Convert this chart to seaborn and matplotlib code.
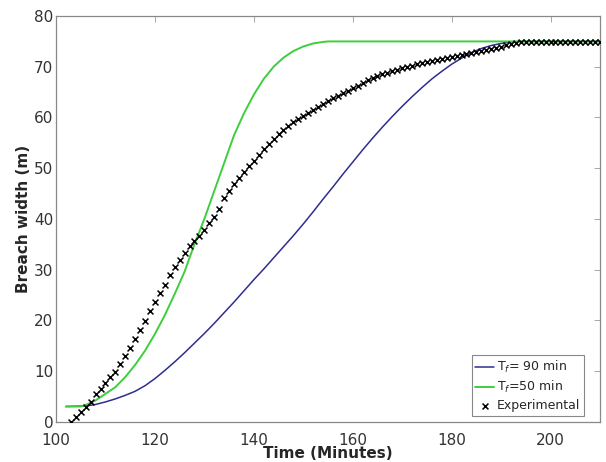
import numpy as np
import pandas as pd
import seaborn as sns
import matplotlib
matplotlib.use('Agg')
import matplotlib.pyplot as plt

# --- data ---
# model curve, T_f = 90 min
t_90 = [102, 106, 108, 110, 112, 114, 116, 118, 120, 122, 124, 126, 128, 130,
        132, 134, 136, 138, 140, 142, 144, 146, 148, 150, 152, 154, 156, 158,
        160, 162, 164, 166, 168, 170, 172, 174, 176, 178, 180, 182, 184, 186,
        188, 190, 192, 194, 210]
w_90 = [3.0, 3.1, 3.4, 3.9, 4.5, 5.2, 6.0, 7.1, 8.5, 10.1, 11.8, 13.6, 15.5, 17.4,
        19.4, 21.5, 23.6, 25.8, 28.0, 30.1, 32.3, 34.5, 36.7, 39.0, 41.4, 43.9, 46.3, 48.8,
        51.2, 53.6, 55.9, 58.1, 60.2, 62.2, 64.1, 65.9, 67.6, 69.1, 70.5, 71.7, 72.8, 73.6,
        74.2, 74.6, 74.9, 75.0, 75.0]

# model curve, T_f = 50 min
t_50 = [102, 105, 106, 108, 110, 112, 114, 116, 118, 120, 122, 124, 126, 128,
        130, 132, 134, 136, 138, 140, 142, 144, 146, 148, 150, 152, 154, 155, 210]
w_50 = [3.0, 3.0, 3.3, 4.2, 5.5, 6.8, 8.8, 11.2, 14.0, 17.3, 21.0, 25.2, 29.6, 35.0,
        40.0, 45.5, 51.0, 56.5, 60.8, 64.5, 67.6, 70.0, 71.8, 73.1, 74.0, 74.6, 74.9, 75.0, 75.0]

# experimental, one reading per minute from 103 to 210
t_exp = list(range(103, 211))
w_exp = [0.0, 1.0, 2.0, 2.9, 3.8, 5.5, 6.4, 7.6, 8.9, 9.8,
         11.3, 12.9, 14.5, 16.3, 18.0, 19.8, 21.9, 23.6, 25.3, 27.0,
         29.0, 30.6, 31.9, 33.2, 34.6, 35.7, 36.6, 37.8, 39.2, 40.4,
         42.0, 44.2, 45.6, 46.8, 48.1, 49.2, 50.4, 51.5, 52.7, 53.7,
         54.8, 55.8, 56.8, 57.6, 58.4, 59.1, 59.7, 60.3, 60.9, 61.5,
         62.1, 62.7, 63.2, 63.8, 64.3, 64.8, 65.3, 65.8, 66.3, 66.8,
         67.3, 67.7, 68.1, 68.5, 68.8, 69.1, 69.4, 69.7, 70.0, 70.2,
         70.5, 70.7, 70.9, 71.1, 71.3, 71.5, 71.7, 71.9, 72.1, 72.3,
         72.6, 72.8, 73.0, 73.2, 73.4, 73.6, 73.8, 74.0, 74.2, 74.4,
         74.6, 74.8, 74.8, 74.8, 74.8, 74.8, 74.8, 74.8, 74.8, 74.8,
         74.8, 74.8, 74.8, 74.8, 74.8, 74.8, 74.8, 74.8]

XTICKS = [100, 120, 140, 160, 180, 200]
YTICKS = [0, 10, 20, 30, 40, 50, 60, 70, 80]

BLUE = '#2e2e8f'
GREEN = '#3ccf3c'

sns.set_style('white')
plt.rcParams['font.family'] = ['DejaVu Sans']
plt.rcParams['xtick.direction'] = 'in'
plt.rcParams['ytick.direction'] = 'in'

df90 = pd.DataFrame({'t': t_90, 'w': w_90})
df50 = pd.DataFrame({'t': t_50, 'w': w_50})
dfexp = pd.DataFrame({'t': t_exp, 'w': w_exp})

fig = plt.figure(figsize=(6.06, 4.62), dpi=100)
ax = fig.add_axes([0.0924, 0.0872, 0.8977, 0.878])

sns.lineplot(data=df90, x='t', y='w', ax=ax, color=BLUE, linewidth=1.1,
             label='T$_f$= 90 min')
sns.lineplot(data=df50, x='t', y='w', ax=ax, color=GREEN, linewidth=1.4,
             label='T$_f$=50 min')
sns.scatterplot(data=dfexp, x='t', y='w', ax=ax, marker='x', color='black',
                s=18, linewidth=1.1, label='Experimental', zorder=3)

ax.set_xlim(100, 210)
ax.set_ylim(0, 80)
ax.set_xticks(XTICKS)
ax.set_yticks(YTICKS)
ax.tick_params(axis='both', which='both', direction='in', length=4, width=0.6,
               color='#999999', labelsize=11, labelcolor='#333333',
               top=True, right=True)
ax.tick_params(axis='x', pad=8)
ax.tick_params(axis='y', pad=2)
for sp in ax.spines.values():
    sp.set_color('#888888')
    sp.set_linewidth(0.9)

ax.set_xlabel('Time (Minutes)', fontsize=11, fontweight='bold', labelpad=-1)
ax.set_ylabel('Breach width (m)', fontsize=11, fontweight='bold', labelpad=2)

leg = ax.legend(loc='lower right', bbox_to_anchor=(0.97, 0.015), fontsize=9,
                handlelength=1.5, handletextpad=0.2, borderpad=0.3,
                labelspacing=0.3, fancybox=False, framealpha=1, borderaxespad=0)
leg.get_frame().set_edgecolor('#888888')
leg.get_frame().set_linewidth(0.8)

fig.savefig('out.png', dpi=100)
